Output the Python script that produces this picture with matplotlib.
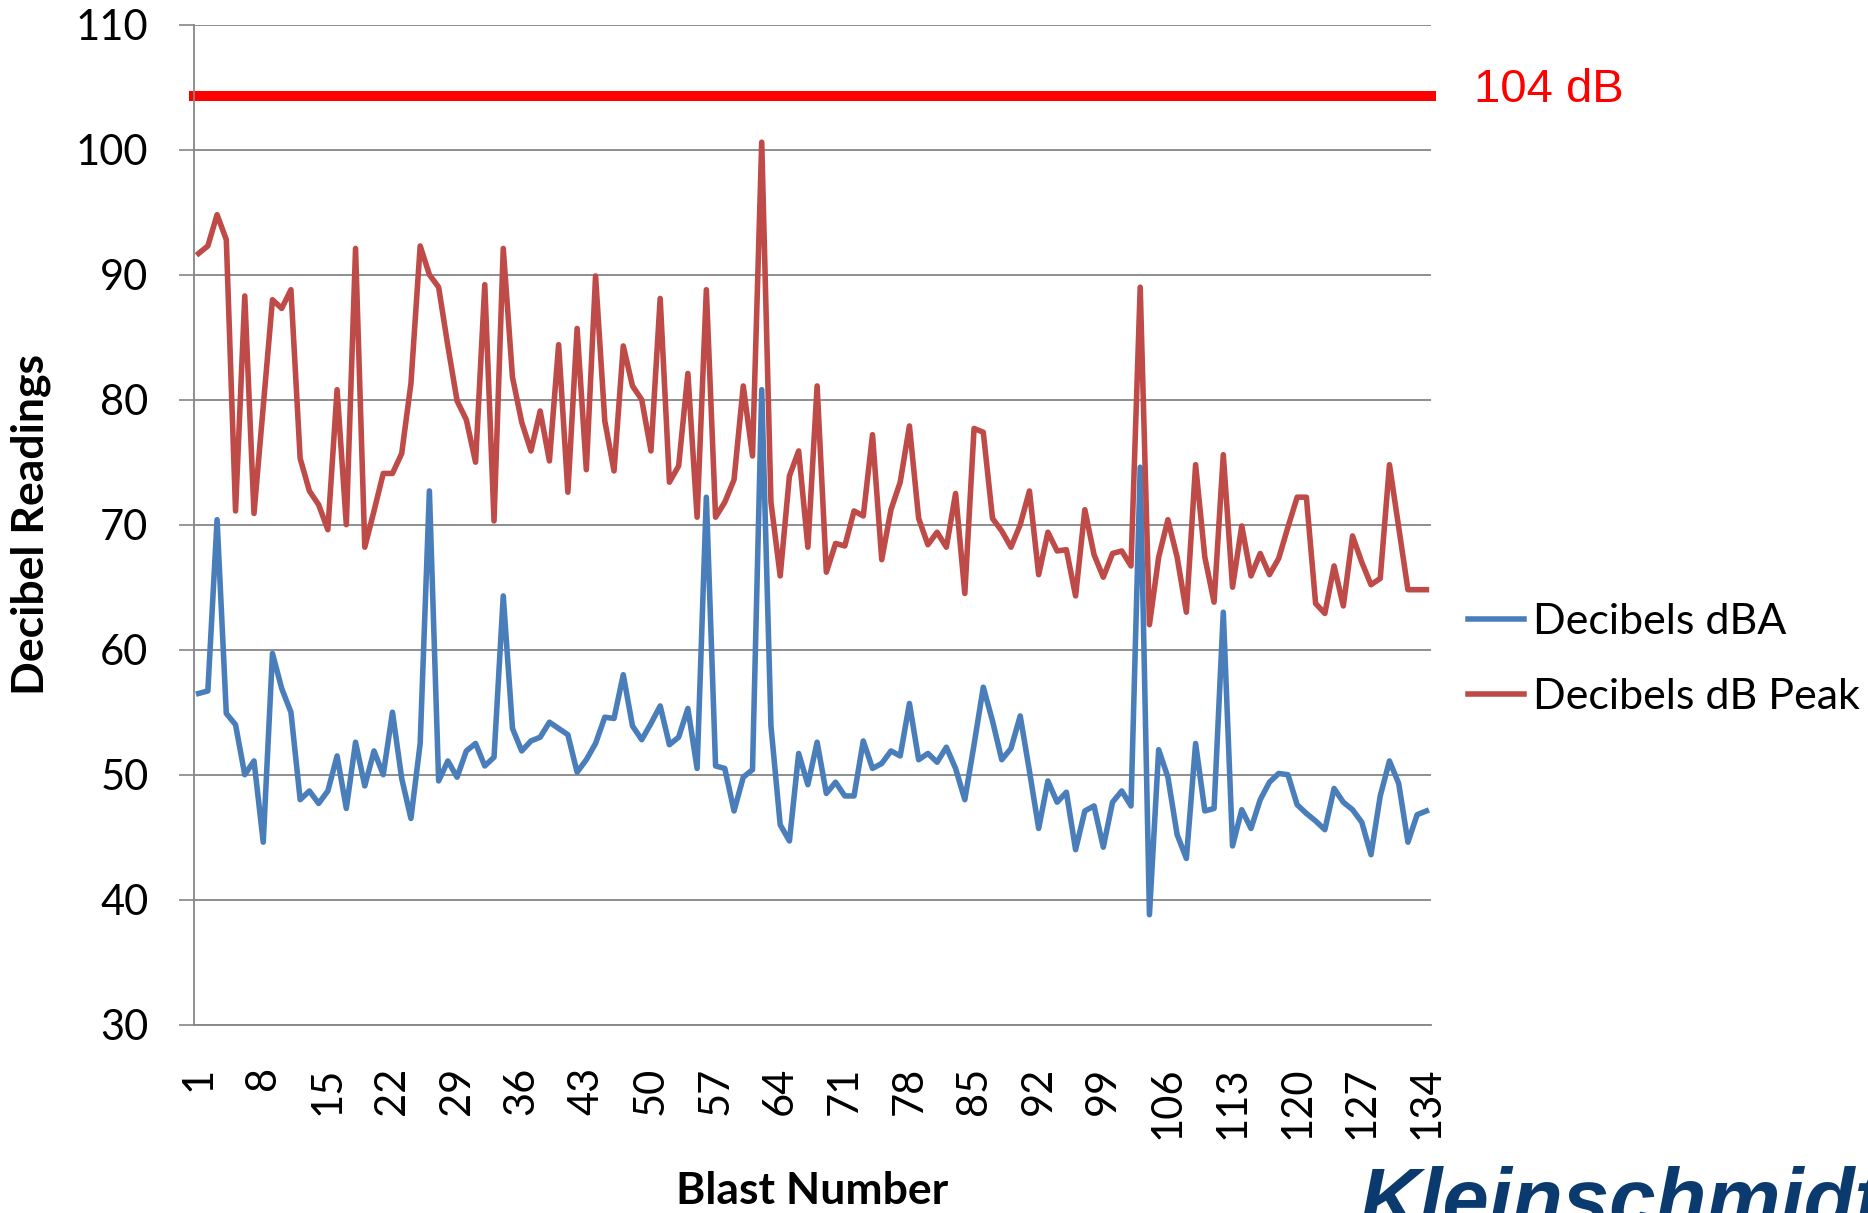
import matplotlib
matplotlib.use('Agg')
import numpy as np
from matplotlib import pyplot as plt

# values
blast = np.arange(1, 135)

dba = [56.5, 56.7, 70.4, 54.9, 54.0, 50.0, 51.1, 44.6, 59.7, 56.9, 55.0, 48.0, 48.7, 47.7, 48.7, 51.5, 47.3, 52.6, 49.1, 51.9, 50.0, 55.0,
       49.7, 46.5, 52.5, 72.7, 49.5, 51.1, 49.8, 51.9, 52.5, 50.7, 51.4, 64.3, 53.7, 51.9, 52.7, 53.0, 54.2, 53.7, 53.2, 50.2, 51.2, 52.5,
       54.6, 54.5, 58.0, 53.9, 52.8, 54.1, 55.5, 52.4, 53.0, 55.3, 50.5, 72.2, 50.7, 50.5, 47.1, 49.8, 50.4, 80.8, 53.9, 46.0, 44.7, 51.7, 49.2,
       52.6, 48.5, 49.4, 48.3, 48.3, 52.7, 50.5, 50.9, 51.9, 51.5, 55.7, 51.2, 51.7, 51.0, 52.2, 50.5, 48.0, 52.4, 57.0, 54.3, 51.2, 52.1,
       54.7, 50.3, 45.7, 49.5, 47.8, 48.6, 44.0, 47.1, 47.5, 44.2, 47.8, 48.7, 47.5, 74.6, 38.8, 52.0, 49.8, 45.2, 43.3, 52.5, 47.1, 47.3,
       63.0, 44.3, 47.2, 45.7, 48.0, 49.4, 50.1, 50.0, 47.6, 46.9, 46.3, 45.6, 48.9, 47.8, 47.2, 46.2, 43.6, 48.3, 51.1, 49.3, 44.6, 46.8, 47.1]

peak = [91.7, 92.3, 94.8, 92.8, 71.1, 88.3, 70.9, 79.5, 88.0, 87.3, 88.8, 75.3, 72.7, 71.6, 69.6, 80.8, 70.0, 92.1, 68.2, 71.1, 74.1, 74.1, 75.7,
        81.3, 92.3, 90.0, 89.0, 84.3, 79.9, 78.4, 75.0, 89.2, 70.3, 92.1, 81.8, 78.2, 75.9, 79.1, 75.1, 84.4, 72.6, 85.7, 74.4, 89.9, 78.3,
        74.3, 84.3, 81.1, 80.0, 75.9, 88.1, 73.4, 74.7, 82.1, 70.6, 88.8, 70.6, 71.8, 73.6, 81.1, 75.5, 100.6, 71.8, 65.9, 73.9, 75.9, 68.2,
        81.1, 66.2, 68.5, 68.3, 71.1, 70.7, 77.2, 67.2, 71.2, 73.4, 77.9, 70.5, 68.4, 69.4, 68.2, 72.5, 64.5, 77.7, 77.4, 70.5, 69.5, 68.2,
        70.0, 72.7, 66.0, 69.4, 67.9, 68.0, 64.3, 71.2, 67.6, 65.8, 67.7, 67.9, 66.7, 89.0, 62.0, 67.4, 70.4, 67.4, 63.0, 74.8, 67.4, 63.8, 75.6,
        65.0, 69.9, 65.9, 67.7, 66.0, 67.3, 69.8, 72.2, 72.2, 63.7, 62.9, 66.7, 63.5, 69.1, 67.0, 65.2, 65.7, 74.8, 69.8, 64.8, 64.8, 64.8]

limit_db = 104.3
limit_label = '104 dB'
xticks = list(range(1, 135, 7))
yticks = list(range(30, 111, 10))

plt.rcParams['font.family'] = ['Lato', 'DejaVu Sans']
grid_col = '#868686'

fig = plt.figure(figsize=(18.68, 12.13), dpi=100)
ax = fig.add_axes([194 / 1868, 1 - 1024.7 / 1213, 1237 / 1868, 1000 / 1213])

ax.plot(blast, dba, color='#4A7EBB', lw=4, label='Decibels dBA', solid_joinstyle='round')
ax.plot(blast, peak, color='#BE4B48', lw=4, label='Decibels dB Peak', solid_joinstyle='round')

ax.axhline(limit_db, xmin=-0.004, xmax=1.004, color='#FF0000', lw=7.2, clip_on=False,
           solid_capstyle='butt')
ax.text(1.035, 104.8, limit_label, transform=ax.get_yaxis_transform(), color='#FF0000',
        fontsize=34, family='Liberation Sans', va='center', ha='left')

ax.set_xlim(0.5, 134.5)
ax.set_ylim(30, 110)
ax.set_yticks(yticks)
ax.set_xticks(xticks)
ax.set_xticklabels([str(t) for t in xticks], rotation=90)
ax.tick_params(axis='y', labelsize=30, length=10.8, width=1.2, color=grid_col, pad=22)
ax.tick_params(axis='x', labelsize=30, length=0, pad=30)
ax.yaxis.grid(True, color=grid_col, lw=1.3)
ax.set_axisbelow(True)
for s in ['top', 'right']:
    ax.spines[s].set_visible(False)
ax.spines['left'].set_color(grid_col)
ax.spines['left'].set_linewidth(1.3)
ax.spines['bottom'].set_color(grid_col)
ax.spines['bottom'].set_linewidth(1.3)

ax.set_xlabel('Blast Number', fontsize=32, fontweight='bold', va='top')
ax.xaxis.set_label_coords(0.5, -0.146)
ax.set_ylabel('Decibel Readings', fontsize=32, fontweight='bold')
ax.yaxis.set_label_coords(-0.116, 0.5)

ax.legend(loc='center left', bbox_to_anchor=(1.03, 0.365), frameon=False, fontsize=31,
          handlelength=1.3, handletextpad=0.2, labelspacing=0.85, borderaxespad=0, borderpad=0)

# company logo, cut off by the lower right corner as in the source slide
fig.text(1360 / 1868, 1 - 1166 / 1213, 'Kleinschmidt', color='#0B3A6E', fontsize=60,
         fontweight='bold', fontstyle='italic', family='Liberation Sans', va='top', ha='left')

fig.savefig('out.png', dpi=100)
